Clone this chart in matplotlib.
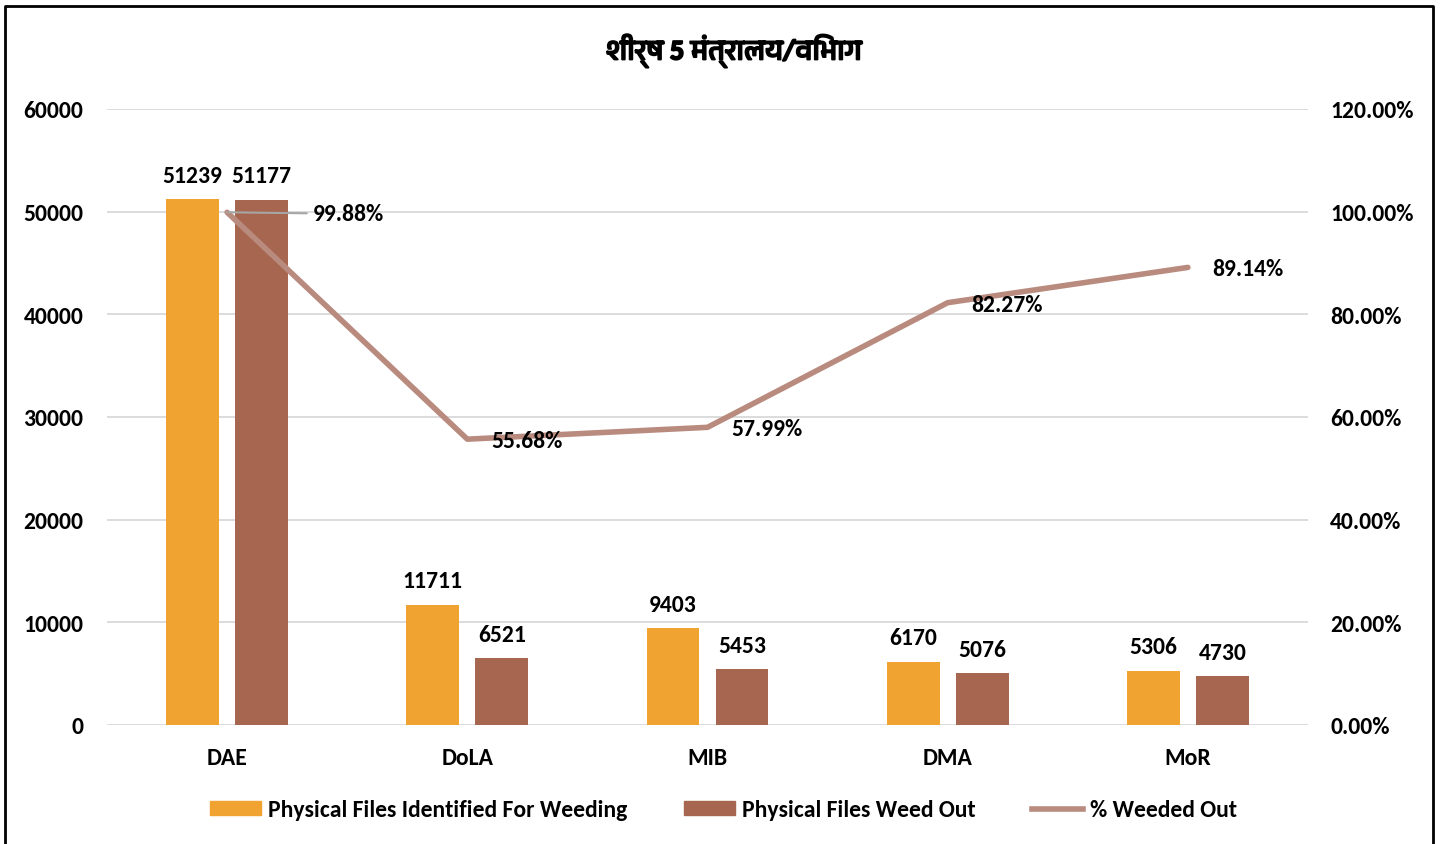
import matplotlib.pyplot as plt
import matplotlib.patheffects as pe
import numpy as np
from matplotlib.lines import Line2D
from matplotlib.patches import Patch
from matplotlib import font_manager

departments = ["DAE", "DoLA", "MIB", "DMA", "MoR"]
identified = [51239, 11711, 9403, 6170, 5306]
weeded = [51177, 6521, 5453, 5076, 4730]
pct_weeded = [99.88, 55.68, 57.99, 82.27, 89.14]

title = "शीर्ष 5 मंत्रालय/विभाग"

deva = sorted({f.name for f in font_manager.fontManager.ttflist if "Devanagari" in f.name})
plt.rcParams['font.family'] = ['Carlito'] + deva + ['DejaVu Sans']
plt.rcParams['font.weight'] = 'bold'

orange = "#F0A331"
brown = "#A6664F"
line_c = "#B98A7E"
grid_c = "#D9D9D9"
fs = 17

fig = plt.figure(figsize=(14.41, 8.45), dpi=100)
ax = fig.add_axes([107 / 1441, 1 - 726 / 845, 1201 / 1441, 616 / 845])
ax2 = ax.twinx()

x = np.arange(len(departments))
w = 0.22
off = 0.1435
ax.bar(x - off, identified, w, color=orange, zorder=2)
ax.bar(x + off, weeded, w, color=brown, zorder=2)

for xi, v in zip(x, identified):
    ax.text(xi - off, v + 1300, str(v), ha='center', va='bottom', fontsize=fs, fontweight='bold')
for xi, v in zip(x, weeded):
    ax.text(xi + off, v + 1300, str(v), ha='center', va='bottom', fontsize=fs, fontweight='bold')

ax.set_xlim(-0.5, len(departments) - 0.5)
ax.set_ylim(0, 60000)
ax.set_yticks(np.arange(0, 60001, 10000))
ax.yaxis.grid(True, color=grid_c, linewidth=1.3, zorder=0)
ax.set_axisbelow(True)
ax.set_xticks(x)
ax.set_xticklabels(departments)
ax.tick_params(axis='both', length=0, labelsize=fs)
ax.tick_params(axis='x', pad=16)
ax.tick_params(axis='y', pad=17)
for s in ax.spines.values():
    s.set_visible(False)
for s in ax2.spines.values():
    s.set_visible(False)

ax2.plot(x, pct_weeded, color=line_c, linewidth=4, solid_capstyle='round', zorder=3)
ax2.set_ylim(0, 120)
ax2.set_yticks(np.arange(0, 121, 20))
ax2.set_yticklabels([f"{t:.2f}%" for t in np.arange(0, 121, 20)])
ax2.tick_params(axis='y', length=0, labelsize=fs, pad=16)

# first label is pulled out to the right with a leader line
ax2.annotate(f"{pct_weeded[0]:.2f}%", xy=(x[0], pct_weeded[0]), xytext=(x[0] + 0.355, pct_weeded[0] - 0.3),
             ha='left', va='center', fontsize=fs, fontweight='bold',
             arrowprops=dict(arrowstyle='-', color='#A6A6A6', lw=1.5, shrinkA=2, shrinkB=0))
for xi, p in zip(x[1:], pct_weeded[1:]):
    ax2.text(xi + 0.1, p - 0.3, f"{p:.2f}%", ha='left', va='center', fontsize=fs, fontweight='bold')

# heavier stroke since the Devanagari face has no bold cut
fig.text(0.509, 1 - 52 / 845, title, ha='center', va='center', fontsize=20.5, fontweight='bold',
         path_effects=[pe.withStroke(linewidth=1.3, foreground='black')])

handles = [Patch(color=orange), Patch(color=brown), Line2D([], [], color=line_c, linewidth=4)]
labels = ["Physical Files Identified For Weeding", "Physical Files Weed Out", "% Weeded Out"]
fig.legend(handles, labels, loc='center', bbox_to_anchor=(0.502, 1 - 811 / 845), ncol=3, frameon=False,
           fontsize=fs, handlelength=2.15, handleheight=0.55, handletextpad=0.3, columnspacing=2.4)

# chart frame: left, top and right edges
fig.add_artist(Line2D([5 / 1441, 5 / 1441, 1433 / 1441, 1433 / 1441], [0, 1 - 7 / 845, 1 - 7 / 845, 0],
                      transform=fig.transFigure, color='black', linewidth=2))

fig.savefig("out.png", dpi=100)
